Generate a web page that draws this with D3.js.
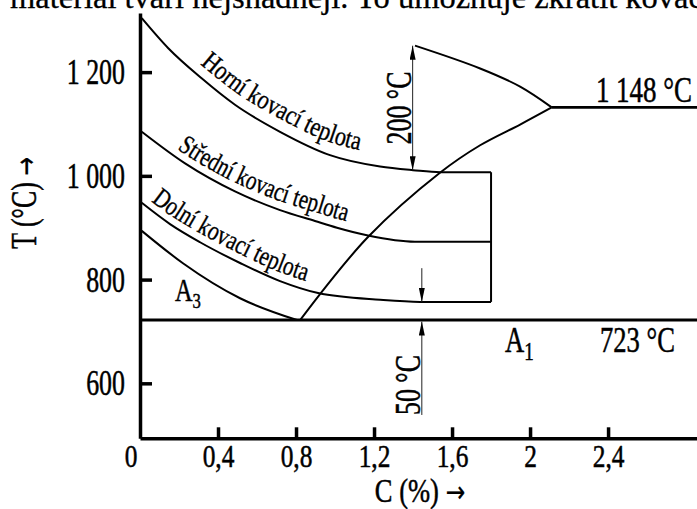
<!DOCTYPE html>
<html lang="cs">
<head>
<meta charset="utf-8">
<script src="https://d3js.org/d3.v7.min.js"></script>
<style type="text/css">
body {
	margin: 0;
	background-color: #fff;
}
svg text {
	font-family: "Liberation Serif", "Times New Roman", serif;
	fill: #000;
	stroke: #000;
	stroke-width: 0.5;
}
.axis path, .axis line {
	fill: none;
	stroke: #000;
	stroke-width: 3.5;
}
.curve {
	fill: none;
	stroke: #000;
	stroke-width: 2;
}
.dim {
	fill: none;
	stroke: #222;
	stroke-width: 1;
}
.arrowGlyph {
	font-family: "DejaVu Sans", sans-serif;
	stroke-width: 0.2;
}
</style>
</head>
<body>
<div class="chart"></div>
<script type="text/javascript">
// tick values
var xTicks = [0.4, 0.8, 1.2, 1.6, 2, 2.4];
var yTicks = [600, 800, 1000, 1200];

// curves: [C %, T °C]
var horni   = [[0.009,1304],[0.145,1246],[0.316,1188],[0.487,1137],[0.718,1085],[0.974,1040],[1.231,1018],[1.4,1011],[1.54,1007],[1.8,1007]];
var stredni = [[0.009,1085],[0.231,1024],[0.487,970],[0.718,934],[0.897,913],[1.01,900],[1.169,885],[1.41,873],[1.8,873]];
var dolni   = [[0.009,948],[0.154,907],[0.308,872],[0.513,832],[0.718,797],[0.913,774],[1.231,761],[1.436,757],[1.8,757]];
var a3      = [[0.009,894],[0.222,831],[0.513,764],[0.805,722]];
var acm     = [[0.821,722],[1.169,882],[1.538,1006],[1.744,1059],[1.949,1099],[2.111,1132]];
var upper   = [[1.41,1251],[1.744,1207],[1.949,1172],[2.111,1132]];

var boxC = 1.8;
var eutectoidT = 722;   // drawn position of the 723 °C line
var eutecticT = 1132;   // drawn position of the 1 148 °C line
var eutecticC = 2.111;

var width = 697, height = 509;

var svg = d3.select(".chart").append("svg")
	.attr("width", width)
	.attr("height", height);

svg.append("rect").attr("width", width).attr("height", height).style("fill", "#fff");

var x = d3.scaleLinear().domain([0, 2.856]).range([140, 697]);
var y = d3.scaleLinear().domain([494, 1314]).range([438.3, 13]);

// page text cut off at the top
svg.append("text")
	.attr("x", 10).attr("y", 7.5)
	.style("font-size", "32.5px")
	.style("stroke-width", 0.3)
	.text("materiál tváří nejsnadněji. To umožňuje zkrátit kovací");

var defs = svg.append("defs");
defs.append("marker")
	.attr("id", "arr")
	.attr("markerUnits", "userSpaceOnUse")
	.attr("markerWidth", 14).attr("markerHeight", 6)
	.attr("refX", 14).attr("refY", 3)
	.attr("orient", "auto-start-reverse")
	.append("path")
	.attr("d", "M0,0L14,3L0,6z")
	.style("fill", "#000");

var line = d3.line()
	.x(function(d) { return x(d[0]); })
	.y(function(d) { return y(d[1]); })
	.curve(d3.curveMonotoneX);
var smooth = d3.line()
	.x(function(d) { return x(d[0]); })
	.y(function(d) { return y(d[1]); })
	.curve(d3.curveCatmullRom.alpha(0.5));

// curves
[horni, stredni, dolni, a3].forEach(function(c) {
	svg.append("path").attr("class", "curve").attr("d", line(c));
});
[acm, upper].forEach(function(c) {
	svg.append("path").attr("class", "curve").attr("d", smooth(c));
});

// right side of the forging box
svg.append("line").attr("class", "curve")
	.attr("x1", x(boxC)).attr("x2", x(boxC))
	.attr("y1", y(horni[horni.length - 1][1])).attr("y2", y(dolni[dolni.length - 1][1]));

// A1 and eutectic lines
svg.append("line")
	.attr("x1", x(0)).attr("x2", width)
	.attr("y1", y(eutectoidT)).attr("y2", y(eutectoidT))
	.style("stroke", "#000").style("stroke-width", 3);
svg.append("line")
	.attr("x1", x(eutecticC)).attr("x2", width)
	.attr("y1", y(eutecticT)).attr("y2", y(eutecticT))
	.style("stroke", "#000").style("stroke-width", 2.8);

// dimension arrows
svg.append("line").attr("class", "dim")
	.attr("x1", x(1.398)).attr("x2", x(1.398))
	.attr("y1", y(1251)).attr("y2", y(1011))
	.attr("marker-start", "url(#arr)").attr("marker-end", "url(#arr)");
svg.append("line").attr("class", "dim")
	.attr("x1", x(1.445)).attr("x2", x(1.445))
	.attr("y1", y(822)).attr("y2", y(757))
	.attr("marker-end", "url(#arr)");
svg.append("line").attr("class", "dim")
	.attr("x1", x(1.445)).attr("x2", x(1.445))
	.attr("y1", y(539)).attr("y2", y(eutectoidT) + 1.5)
	.attr("marker-end", "url(#arr)");

// axes
var fmtY = function(d) { return d >= 1000 ? d3.format(",")(d).replace(",", " ") : d; };
var yAxis = svg.append("g")
	.attr("class", "axis")
	.attr("transform", "translate(" + x(0) + ",0)")
	.call(d3.axisLeft(y).tickValues(yTicks).tickSizeInner(-12).tickSizeOuter(0).tickFormat(fmtY));
yAxis.selectAll("text")
	.attr("x", -15 / 0.74)
	.attr("dy", "0.33em")
	.attr("transform", "scale(0.74,1)")
	.style("font-size", "35px")
	.style("font-family", null);

var xAxis = svg.append("g")
	.attr("class", "axis")
	.attr("transform", "translate(0," + y.range()[0] + ")")
	.call(d3.axisBottom(x).tickValues(xTicks).tickSizeInner(-11).tickSizeOuter(0)
		.tickFormat(function(d) { return String(d).replace(".", ","); }));
xAxis.selectAll("text")
	.attr("x", 0).attr("y", 28.5).attr("dy", 0)
	.attr("transform", "scale(0.82,1)")
	.style("font-size", "31px")
	.style("font-family", null);

function label(txt, px, py, size, sx, anchor, rot) {
	return svg.append("text")
		.attr("transform", "translate(" + px + "," + py + ")" + (rot ? " rotate(" + rot + ")" : "") + " scale(" + sx + ",1)")
		.attr("text-anchor", anchor)
		.style("font-size", size + "px")
		.text(txt);
}

label("0", 131, 467, 31, 0.82, "middle");
var tl = label("T (°C) ", 36, 203, 35, 0.74, "middle", -90);
tl.append("tspan").attr("class", "arrowGlyph").style("font-size", "30px").text("→");
var cl = label("C (%) ", 420, 502, 34, 0.78, "middle");
cl.append("tspan").attr("class", "arrowGlyph").style("font-size", "30px").text("→");
label("1 148 °C", 692, 101.7, 35, 0.77, "end");
label("723 °C", 600, 351.7, 35, 0.76, "start");
label("200 °C", 411, 108, 35, 0.74, "middle", -90);
label("50 °C", 420, 385, 35, 0.74, "middle", -90);

var a1 = label("A", 505, 351.7, 35, 0.76, "start");
a1.append("tspan").attr("dy", 8).style("font-size", "25px").text("1");
var a3t = label("A", 175, 301, 32, 0.76, "start");
a3t.append("tspan").attr("dy", 7).style("font-size", "22px").text("3");

// curve names along the curves
var names = [
	{id: "lp-h", pts: horni, text: "Horní kovací teplota", off: 13, startX: 200, len: 183},
	{id: "lp-s", pts: stredni, text: "Střední kovací teplota", off: 9, startX: 177, len: 185},
	{id: "lp-d", pts: dolni, text: "Dolní kovací teplota", off: 9, startX: 151, len: 175}
];
names.forEach(function(n) {
	var sh = d3.line()
		.x(function(d) { return x(d[0]); })
		.y(function(d) { return y(d[1]) - n.off; })
		.curve(d3.curveMonotoneX);
	var p = defs.append("path").attr("id", n.id).attr("d", sh(n.pts));
	var node = p.node(), lo = 0, hi = node.getTotalLength();
	for (var i = 0; i < 30; i++) {
		var mid = (lo + hi) / 2;
		if (node.getPointAtLength(mid).x < n.startX) lo = mid; else hi = mid;
	}
	svg.append("text")
		.style("font-size", "27px")
		.style("stroke-width", 0.35)
		.append("textPath")
		.attr("href", "#" + n.id)
		.attr("startOffset", lo)
		.attr("textLength", n.len)
		.attr("lengthAdjust", "spacingAndGlyphs")
		.text(n.text);
});
</script>
</body>
</html>
